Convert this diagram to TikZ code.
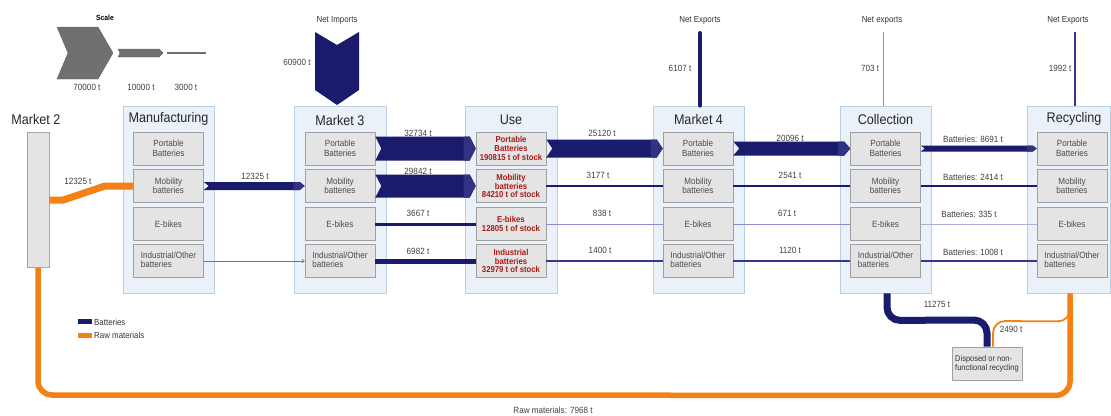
\documentclass[tikz,border=0pt]{standalone}
\usepackage{fontspec}
\setmainfont{Liberation Sans}[FakeStretch=0.9]
\usetikzlibrary{calc,arrows.meta}

\definecolor{navyflow}{RGB}{27,27,110}
\definecolor{navytip}{RGB}{50,50,130}
\definecolor{thinflow}{RGB}{55,55,140}
\definecolor{paleflow}{RGB}{140,140,200}
\definecolor{rawor}{RGB}{245,128,20}
\definecolor{panelfill}{RGB}{234,241,248}
\definecolor{paneledge}{RGB}{185,208,226}
\definecolor{cellfill}{RGB}{228,228,228}
\definecolor{celledge}{RGB}{160,160,160}
\definecolor{celltext}{RGB}{75,75,75}
\definecolor{stockred}{RGB}{170,25,25}
\definecolor{scalegray}{RGB}{112,112,112}

% band with a notched tail and a pointed head: from, to, half height, tip length
\newcommand\chevband[4]{%
  \fill[navyflow] ($(#1)+(0,-#3)$) -- ($(#2)+(-#4,-#3)$) -- (#2)
    -- ($(#2)+(-#4,#3)$) -- ($(#1)+(0,#3)$) -- ($(#1)+(#4,0)$) -- cycle;
  \fill[navytip] ($(#2)+(-#4-6,-#3)$) -- ($(#2)+(-#4,-#3)$) -- (#2)
    -- ($(#2)+(-#4,#3)$) -- ($(#2)+(-#4-6,#3)$) -- cycle;}

\begin{document}
\begin{tikzpicture}[x=1pt,y=-1pt,
  panel/.style={draw=paneledge, fill=panelfill, line width=0.8pt, inner sep=0pt},
  cell/.style={draw=celledge, fill=cellfill, line width=0.6pt, minimum width=70pt,
    minimum height=33pt, inner sep=0pt, align=center,
    font=\fontsize{9}{9.5}\selectfont, text=celltext},
  stockcell/.style={cell, text=stockred, font=\fontsize{8.6}{8.7}\selectfont\bfseries},
  stagetitle/.style={font=\fontsize{14}{14}\selectfont, text=black!85, inner sep=0pt},
  qty/.style={font=\fontsize{9}{9}\selectfont, text=black!75, inner sep=0pt},
  toplabel/.style={font=\fontsize{8.8}{9}\selectfont, text=black!80, inner sep=0pt},
  legendtext/.style={font=\fontsize{8.8}{9}\selectfont, text=black!80, inner sep=0pt, anchor=west},
]
\fill[white] (0,0) rectangle (1111,415);
\useasboundingbox (0,0) rectangle (1111,415);

% ---------- scale ----------
\node[font=\fontsize{7.5}{8}\selectfont\bfseries, inner sep=0pt] (scaletitle) at (105,18) {Scale};
\filldraw[fill=scalegray, draw=black!60, line width=0.4pt]
  (57,27) -- (98,27) -- (113,53) -- (98,79) -- (57,79) -- (68,53) -- cycle;
\filldraw[fill=scalegray, draw=black!60, line width=0.4pt]
  (118,49) -- (159,49) -- (163,53) -- (159,57) -- (118,57) -- (120,53) -- cycle;
\draw[scalegray, line width=2.5pt] (167,53) -- (206,53);
\node[qty] (s70) at (87,87) {70000 t};
\node[qty] (s10) at (141,87) {10000 t};
\node[qty] (s3) at (186,87) {3000 t};

% ---------- stage panels ----------
\node[draw=black!35, fill=cellfill, line width=0.6pt, minimum width=22pt, minimum height=135pt, inner sep=0pt] (m2) at (38,200) {};
\node[panel, minimum width=91pt, minimum height=187pt] (mf)  at (168.5,199.5) {};
\node[panel, minimum width=92pt, minimum height=187pt] (m3)  at (340,199.5) {};
\node[panel, minimum width=92pt, minimum height=187pt] (use) at (511,199.5) {};
\node[panel, minimum width=91pt, minimum height=187pt] (m4)  at (698.5,199.5) {};
\node[panel, minimum width=91pt, minimum height=187pt] (col) at (885.5,199.5) {};
\node[panel, minimum width=83pt, minimum height=187pt] (rec) at (1068.5,199.5) {};

\node[stagetitle] (t-m2)  at (36,119) {Market 2};
\node[stagetitle] (t-mf)  at (168.5,119) {Manufacturing};
\node[stagetitle] (t-m3)  at (340,120) {Market 3};
\node[stagetitle] (t-use) at (511,120) {Use};
\node[stagetitle] (t-m4)  at (698.5,119) {Market 4};
\node[stagetitle] (t-col) at (885.5,119) {Collection};
\node[stagetitle] (t-rec) at (1074,119) {Recycling};

% ---------- product cells ----------
\foreach \s/\cx in {mf/168.5, m3/340, m4/698, col/885.5, rec/1072} {
  \node[cell] (\s-1) at (\cx,148.5) {Portable\\Batteries};
  \node[cell] (\s-2) at (\cx,186) {Mobility\\batteries};
  \node[cell] (\s-3) at (\cx,224) {E-bikes};
  \node[cell] (\s-4) at (\cx,261) {\begin{tabular}{@{}l@{}}Industrial/Other\\batteries\end{tabular}};
}
\node[stockcell] (use-1) at (511,148.5) {Portable\\Batteries\\190815 t of stock};
\node[stockcell] (use-2) at (511,186) {Mobility\\batteries\\84210 t of stock};
\node[stockcell] (use-3) at (511,224) {E-bikes\\12805 t of stock};
\node[stockcell] (use-4) at (511,261) {Industrial\\batteries\\32979 t of stock};

% ---------- raw materials into manufacturing ----------
\draw[rawor, line width=7pt, line join=round] (m2.east) -- ++(14,0) -- (105,186) -- (mf-2.west);
\node[qty] (q-m2) at (78,181) {12325 t};

% ---------- manufacturing to market 3 ----------
\chevband{mf-2.east}{m3-2.west}{4}{5}
\node[qty] (q-mf) at (255,176) {12325 t};
\draw[black!55, line width=0.6pt, -{To[length=3pt,width=4pt]}] (mf-4.east) -- (m3-4.west);

% ---------- market 3 to use ----------
\chevband{m3-1.east}{use-1.west}{12}{6}
\chevband{m3-2.east}{use-2.west}{11.5}{6}
\draw[navyflow, line width=3pt] (m3-3.east) -- (use-3.west);
\draw[navyflow, line width=5pt] (m3-4.east) -- (use-4.west);
\node[qty] (q31) at (418,133) {32734 t};
\node[qty] (q32) at (418,171) {29842 t};
\node[qty] (q33) at (418,213) {3667 t};
\node[qty] (q34) at (418,251) {6982 t};

% ---------- use to market 4 ----------
\chevband{use-1.east}{m4-1.west}{9}{6}
\draw[navyflow, line width=2.2pt] (use-2.east) -- (m4-2.west);
\draw[paleflow, line width=1pt] (use-3.east) -- (m4-3.west);
\draw[thinflow, line width=1.4pt] (use-4.east) -- (m4-4.west);
\node[qty] (q41) at (602,133) {25120 t};
\node[qty] (q42) at (598,175) {3177 t};
\node[qty] (q43) at (602,213) {838 t};
\node[qty] (q44) at (600,250) {1400 t};

% ---------- market 4 to collection ----------
\chevband{m4-1.east}{col-1.west}{7}{6}
\draw[navyflow, line width=2pt] (m4-2.east) -- (col-2.west);
\draw[paleflow, line width=1pt] (m4-3.east) -- (col-3.west);
\draw[thinflow, line width=1.3pt] (m4-4.east) -- (col-4.west);
\node[qty] (q51) at (790,138) {20096 t};
\node[qty] (q52) at (790,175) {2541 t};
\node[qty] (q53) at (787,213) {671 t};
\node[qty] (q54) at (790,250) {1120 t};

% ---------- collection to recycling ----------
\chevband{col-1.east}{rec-1.west}{3}{4}
\draw[navyflow, line width=2pt] (col-2.east) -- (rec-2.west);
\draw[paleflow!70, line width=0.8pt] (col-3.east) -- (rec-3.west);
\draw[thinflow, line width=1.3pt] (col-4.east) -- (rec-4.west);
\node[qty] (q61) at (973,139) {Batteries: 8691 t};
\node[qty] (q62) at (973,177) {Batteries: 2414 t};
\node[qty] (q63) at (969,214) {Batteries: 335 t};
\node[qty] (q64) at (973,252) {Batteries: 1008 t};

% ---------- imports and exports ----------
\fill[navyflow] (315,32) -- (337,45) -- (359,32) -- (359,90) -- (337,105) -- (315,90) -- cycle;
\node[toplabel] (l-imp) at (337,20) {Net Imports};
\node[qty] (q-imp) at (297,62) {60900 t};

\coordinate (x4) at (700,33);
\draw[navyflow, line width=4pt, line cap=round] (x4) -- (x4 |- m4.north);
\node[toplabel] (l-x4) at (700,20) {Net Exports};
\node[qty] (q-x4) at (680,68) {6107 t};

\coordinate (xc) at (883,32);
\draw[paleflow, line width=1pt] (xc) -- (xc |- col.north);
\node[toplabel] (l-xc) at (882,20) {Net exports};
\node[qty] (q-xc) at (870,68) {703 t};

\coordinate (xr) at (1075,32);
\draw[thinflow, line width=1.5pt] (xr) -- (xr |- rec.north);
\node[toplabel] (l-xr) at (1068,20) {Net Exports};
\node[qty] (q-xr) at (1060,68) {1992 t};

% ---------- disposal ----------
\node[draw=celledge, fill=cellfill, line width=0.6pt, minimum width=70pt, minimum height=33pt,
  inner sep=1pt, align=left, font=\fontsize{8.3}{9}\selectfont, text=black!80] (disp) at (987,363.5)
  {Disposed or non-\\functional recycling};

\draw[rawor, line width=5.5pt, rounded corners=14pt]
  ([xshift=1.5pt]rec.south) -- ++(0,102) -- (38,395) -- (m2.south);
\draw[rawor, line width=1.8pt, rounded corners=12pt]
  ([xshift=1.5pt]rec.south) -- ++(0,28) -- (993,321) -- ([xshift=6pt]disp.north);
\draw[navyflow, line width=7pt, rounded corners=13pt]
  ([xshift=1.5pt]col.south) -- ++(0,27) -- (987,320) -- (disp.north);
\node[qty] (q-disp) at (937,304) {11275 t};
\node[qty] (q-raw2) at (1011,329) {2490 t};
\node[qty] (q-raw) at (553,410) {Raw materials: 7968 t};

% ---------- legend ----------
\fill[navyflow] (78,319) rectangle (92,324);
\fill[rawor] (78,333) rectangle (92,338);
\node[legendtext] (lg-b) at (94,322) {Batteries};
\node[legendtext] (lg-r) at (94,335.5) {Raw materials};
\end{tikzpicture}
\end{document}
